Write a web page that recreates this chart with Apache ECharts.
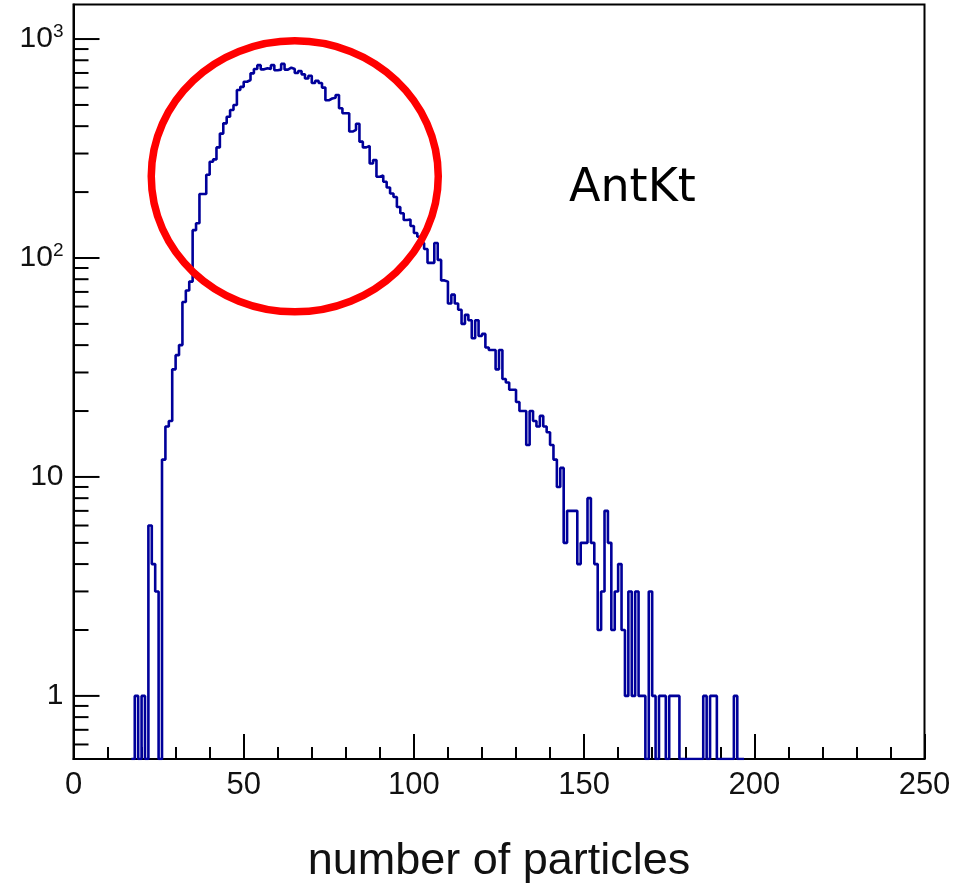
<!DOCTYPE html>
<html>
<head>
<meta charset="utf-8">
<script src="https://cdn.jsdelivr.net/npm/echarts@6/dist/echarts.min.js"></script>
<style>
  html, body { margin: 0; padding: 0; background: #fff; }
  #chart { width: 968px; height: 883px; }
</style>
</head>
<body>
<div id="chart"></div>
<script>
// Histogram: number of particles per event, one bin per unit, starting at firstBin
const firstBin = 17;
const binCounts = [
  0, 1, 0, 1, 0, 6, 4, 3, 0, 12,          // 17-26
  17, 18, 31, 36, 40, 63, 71, 78, 134, 144, // 27-36
  196, 196, 240, 275, 282, 320, 370, 412, 442, 474, // 37-46
  500, 585, 605, 638, 650, 697, 730, 760, 727, 735, // 47-56
  730, 760, 720, 725, 770, 725, 740, 730, 700, 715, // 57-66
  690, 660, 680, 630, 645, 630, 600, 525, 535, 540, // 67-76
  555, 483, 458, 458, 378, 385, 410, 340, 320, 325, // 77-86
  270, 280, 235, 238, 223, 210, 197, 190, 171, 160, // 87-96
  149, 150, 140, 130, 125, 117, 110, 95, 95, 117,   // 97-106
  98, 79, 78, 62, 68, 62, 58, 50, 55, 52,           // 107-116
  43, 52, 44, 45, 39, 38, 38, 31, 38, 28,           // 117-126
  27, 25, 25, 22, 20, 20, 14, 20, 18, 17,           // 127-136
  19, 17, 16, 14, 12, 9, 11, 5, 7, 7,               // 137-146
  7, 4, 5, 5, 8, 5, 4, 2, 3, 7,                     // 147-156
  5, 2, 3, 4, 2, 1, 3, 1, 3, 1,                     // 157-166
  1, 0, 3, 1, 0, 1, 1, 0, 1, 1,                     // 167-176
  1, 0, 0, 0, 0, 0, 0, 0, 1, 0,                     // 177-186
  1, 1, 0, 0, 0, 0, 0, 1, 0, 0                      // 187-196
];

const xTickLabels = ['0', '50', '100', '150', '200', '250'];
const yDecadeLabels = { 1: '1', 10: '10', 100: '{b|10}{s|2}', 1000: '{b|10}{s|3}' };

const xMin = 0, xMax = 250, xStep = 50;
const yMin = 0.515, yMax = 1438;

// Highlight ellipse around the peak (centre in data units, radii in pixels)
const ringCentre = [65, 236];
const ringRadii = [143.5, 135.5];
const tagText = 'AntKt';

// Build the outline points: bin left edges with step 'end', closing at the last edge.
// Empty bins sit on the bottom of the frame, as on a log display.
const outline = [];
binCounts.forEach((c, i) => {
  outline.push([firstBin + i, c > 0 ? c : yMin]);
});
outline.push([firstBin + binCounts.length, yMin]);

// Log-axis ticks: decades long, 2..9 sub-divisions short
const yTicks = [];
for (let d = -1; d <= 3; d++) {
  for (let m = 1; m <= 9; m++) {
    const v = m * Math.pow(10, d);
    if (v >= yMin && v <= yMax) yTicks.push([0, v, m === 1 ? 26 : 15]);
  }
}

const chart = echarts.init(document.getElementById('chart'), null, { renderer: 'canvas' });

const font = '"Liberation Sans", Arial, Helvetica, sans-serif';

chart.setOption({
  animation: false,
  backgroundColor: '#ffffff',
  grid: {
    left: 73.5, right: 43.5, top: 4.5, bottom: 124,
    outerBoundsMode: 'none',
    containLabel: false,
    show: true, borderColor: '#000', borderWidth: 2, backgroundColor: 'transparent'
  },
  xAxis: {
    type: 'value',
    min: xMin, max: xMax, interval: xStep,
    name: 'number of particles',
    nameLocation: 'middle',
    nameGap: 80,
    nameTextStyle: { fontFamily: font, fontSize: 45, color: '#111' },
    axisLine: { show: true, onZero: false, lineStyle: { color: '#000', width: 2 } },
    axisTick: { show: true, inside: true, length: 25, lineStyle: { color: '#000', width: 2 } },
    minorTick: { show: true, splitNumber: 5, length: 12, lineStyle: { color: '#000', width: 2 } },
    splitLine: { show: false },
    axisLabel: {
      margin: 11, fontFamily: font, fontSize: 31, color: '#111',
      formatter: v => xTickLabels[Math.round(v / xStep)] ?? ''
    }
  },
  yAxis: {
    type: 'log',
    logBase: 10,
    min: yMin, max: yMax,
    axisLine: { show: true, onZero: false, lineStyle: { color: '#000', width: 2 } },
    axisTick: { show: false },
    splitLine: { show: false },
    axisLabel: {
      margin: 10, fontFamily: font, fontSize: 30, color: '#111',
      showMinLabel: false, showMaxLabel: false,
      formatter: v => {
        const key = Math.round(v);
        return Math.abs(v - key) < 1e-6 && yDecadeLabels[key] ? yDecadeLabels[key] : '';
      },
      rich: {
        b: { fontFamily: font, fontSize: 30, color: '#111' },
        s: { fontFamily: font, fontSize: 19, color: '#111', verticalAlign: 'top', padding: [0, 0, 14, 0] }
      }
    }
  },
  graphic: [{
    type: 'text', left: 569, top: 166,
    style: { text: tagText, fontFamily: '"DejaVu Sans", sans-serif', fontSize: 46, fill: '#000' }
  }],
  series: [
    {
      name: 'counts',
      type: 'line',
      step: 'end',
      data: outline,
      symbol: 'none',
      clip: true,
      lineStyle: { color: '#00009a', width: 2.6 },
      z: 3
    },
    {
      name: 'yticks',
      type: 'custom',
      data: yTicks,
      silent: true,
      z: 4,
      renderItem: (params, api) => {
        const p = api.coord([api.value(0), api.value(1)]);
        const len = api.value(2);
        return {
          type: 'line',
          shape: { x1: p[0], y1: p[1], x2: p[0] + len, y2: p[1] },
          style: { stroke: '#000', lineWidth: 2 }
        };
      }
    },
    {
      name: 'ring',
      type: 'custom',
      data: [ringCentre],
      silent: true,
      z: 5,
      renderItem: (params, api) => {
        const c = api.coord([api.value(0), api.value(1)]);
        return {
          type: 'ellipse',
          shape: { cx: c[0], cy: c[1], rx: ringRadii[0], ry: ringRadii[1] },
          style: { fill: 'none', stroke: '#ff0000', lineWidth: 7.5 }
        };
      }
    }
  ]
});
</script>
</body>
</html>
